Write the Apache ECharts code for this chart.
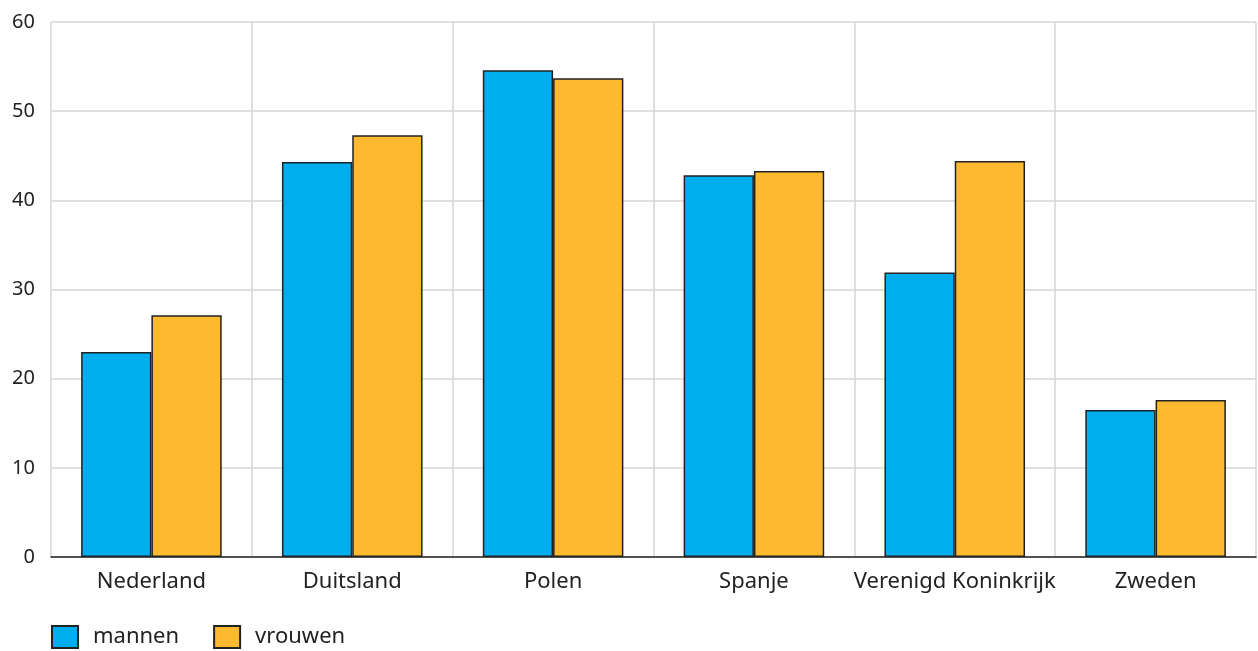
<!DOCTYPE html>
<html><head><meta charset="utf-8">
<script src="https://cdn.jsdelivr.net/npm/echarts@6/dist/echarts.min.js"></script>
<style>html,body{margin:0;padding:0;background:#fff}#c{width:1258px;height:651px}</style>
</head><body><div id="c"></div>
<script>
const categories = ['Nederland','Duitsland','Polen','Spanje','Verenigd Koninkrijk','Zweden'];
const mannen = [23.0, 44.3, 54.6, 42.8, 31.9, 16.5];
const vrouwen = [27.1, 47.3, 53.7, 43.3, 44.4, 17.6];
const seriesNames = ['mannen','vrouwen'];
const chart = echarts.init(document.getElementById('c'));
const font = 'Noto Sans';
chart.setOption({
  animation:false,
  grid:{left:51,right:2,top:22,bottom:94,containLabel:false},
  legend:{left:51,top:625,padding:0,itemWidth:26,itemHeight:22,itemGap:34,icon:'rect',
    textStyle:{fontFamily:font,fontSize:22,color:'#222',padding:[0,0,0,10]},
    data:seriesNames},
  xAxis:{type:'category',data:categories,
    axisLine:{lineStyle:{color:'#222',width:1.5}},
    axisTick:{alignWithLabel:true,interval:0,length:10,lineStyle:{color:'#222',width:1.5}},
    axisLabel:{interval:0,fontFamily:font,fontSize:22,color:'#222',margin:14},
    splitLine:{show:true,interval:0,lineStyle:{color:'#d6d6d6',width:1.5}}},
  yAxis:{type:'value',min:0,max:60,interval:10,
    axisLine:{show:false},axisTick:{show:false},
    axisLabel:{fontFamily:font,fontSize:20,color:'#222',margin:16},
    splitLine:{lineStyle:{color:'#d6d6d6',width:1.5}}},
  series:[
    {name:seriesNames[0],type:'bar',data:mannen,barGap:'0%',barCategoryGap:'30%',
      itemStyle:{color:'#00aeef',borderColor:'#222',borderWidth:1.5}},
    {name:seriesNames[1],type:'bar',data:vrouwen,
      itemStyle:{color:'#fdba30',borderColor:'#222',borderWidth:1.5}}
  ]
});
</script></body></html>
